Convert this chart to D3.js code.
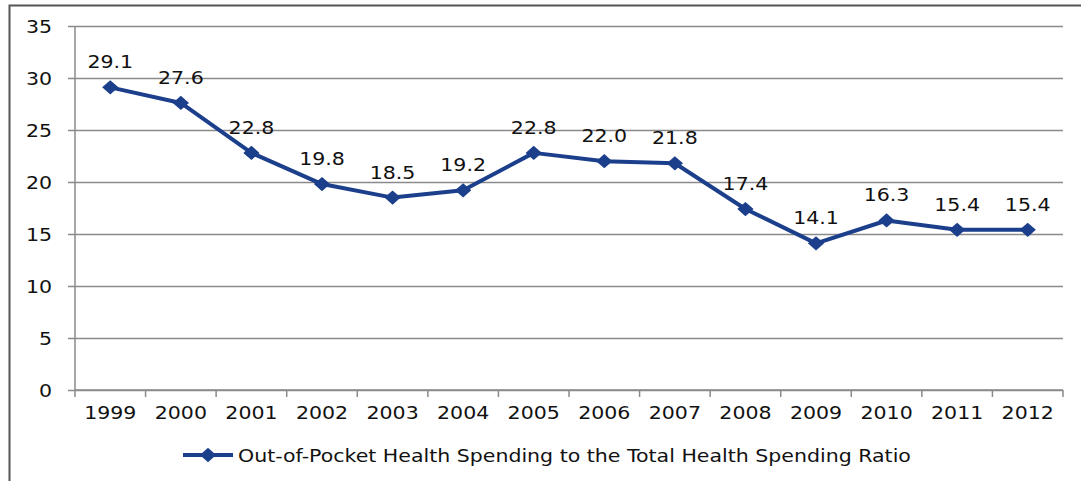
<!DOCTYPE html>
<html>
<head>
<meta charset="utf-8">
<script src="https://cdn.jsdelivr.net/npm/d3@7"></script>
<style>
  html, body { margin: 0; padding: 0; background: #fff; }
  svg { display: block; }
  text { font-family: "DejaVu Sans", Verdana, sans-serif; fill: #111; }
</style>
</head>
<body>
<svg id="chart" width="1081" height="481"></svg>
<script>
const years = ["1999","2000","2001","2002","2003","2004","2005","2006","2007","2008","2009","2010","2011","2012"];
const ratio = [29.1, 27.6, 22.8, 19.8, 18.5, 19.2, 22.8, 22.0, 21.8, 17.4, 14.1, 16.3, 15.4, 15.4];
const yTicks = [0, 5, 10, 15, 20, 25, 30, 35];
const seriesName = "Out-of-Pocket Health Spending to the Total Health Spending Ratio";

const W = 1081, H = 481;
const margin = { left: 75, right: 18, top: 26, bottom: 91 };
const svg = d3.select("#chart");
const lineColor = "#1c3f8c";
const gridColor = "#8a8a8a";
const sx = 1.14;          // horizontal stretch of the lettering
const fontSize = 18;

// places a text node at (px, py), widened around its anchor
function label(parent, px, py, str, anchor) {
  return parent.append("text")
    .attr("transform", `translate(${px},${py}) scale(${sx},1)`)
    .attr("text-anchor", anchor)
    .attr("font-size", fontSize)
    .text(str);
}

// outer frame
svg.append("rect")
  .attr("x", 9.5).attr("y", 5.5)
  .attr("width", W + 20).attr("height", H + 20)
  .attr("fill", "none").attr("stroke", "#555").attr("stroke-width", 2);

const x = d3.scaleBand().domain(years)
  .range([margin.left, W - margin.right]);
const y = d3.scaleLinear().domain([0, 35])
  .range([H - margin.bottom, margin.top]);

// horizontal gridlines with left tick marks
const yAxis = d3.axisLeft(y).tickValues(yTicks)
  .tickSize(-(x.range()[1] - x.range()[0])).tickFormat("");
const gy = svg.append("g").attr("transform", `translate(${margin.left},0)`).call(yAxis);
gy.select(".domain").remove();
gy.selectAll(".tick line").attr("stroke", gridColor).attr("stroke-width", 1.5).attr("x1", -7);
yTicks.forEach(t => label(svg, 52, y(t) + 6.5, String(t), "end"));

// vertical axis line
svg.append("line")
  .attr("x1", margin.left).attr("x2", margin.left)
  .attr("y1", y(35)).attr("y2", y(0))
  .attr("stroke", gridColor).attr("stroke-width", 1.5);

// x axis: ticks between categories
const boundaries = years.map(d => x(d)).concat([x.range()[1]]);
const gx = svg.append("g");
gx.append("line")
  .attr("x1", x.range()[0]).attr("x2", x.range()[1])
  .attr("y1", y(0)).attr("y2", y(0))
  .attr("stroke", gridColor).attr("stroke-width", 1.5);
gx.selectAll("line.tk").data(boundaries).join("line").attr("class", "tk")
  .attr("x1", d => d).attr("x2", d => d)
  .attr("y1", y(0)).attr("y2", y(0) + 7)
  .attr("stroke", gridColor).attr("stroke-width", 1.5);
years.forEach(d => label(gx, x(d) + x.bandwidth() / 2, y(0) + 29, d, "middle"));

// series line
const cx = d => x(d) + x.bandwidth() / 2;
const line = d3.line().x((d, i) => cx(years[i])).y(d => y(d));
svg.append("path").datum(ratio)
  .attr("d", line)
  .attr("fill", "none").attr("stroke", lineColor)
  .attr("stroke-width", 4).attr("stroke-linejoin", "round");

const diamond = d3.symbol().type(d3.symbolDiamond2).size(130);
svg.selectAll("path.pt").data(ratio).join("path").attr("class", "pt")
  .attr("d", diamond)
  .attr("transform", (d, i) => `translate(${cx(years[i])},${y(d)}) scale(${sx},1)`)
  .attr("fill", lineColor);

// value labels
const gv = svg.append("g");
ratio.forEach((d, i) => label(gv, cx(years[i]), y(d) - 19, d.toFixed(1), "middle"));

// legend
const lg = svg.append("g").attr("transform", "translate(183,455)");
lg.append("line").attr("x1", 0).attr("x2", 50).attr("y1", 0).attr("y2", 0)
  .attr("stroke", lineColor).attr("stroke-width", 4);
lg.append("path").attr("d", diamond).attr("transform", `translate(25,0) scale(${sx},1)`).attr("fill", lineColor);
label(lg, 55, 6.5, seriesName, "start");
</script>
</body>
</html>
